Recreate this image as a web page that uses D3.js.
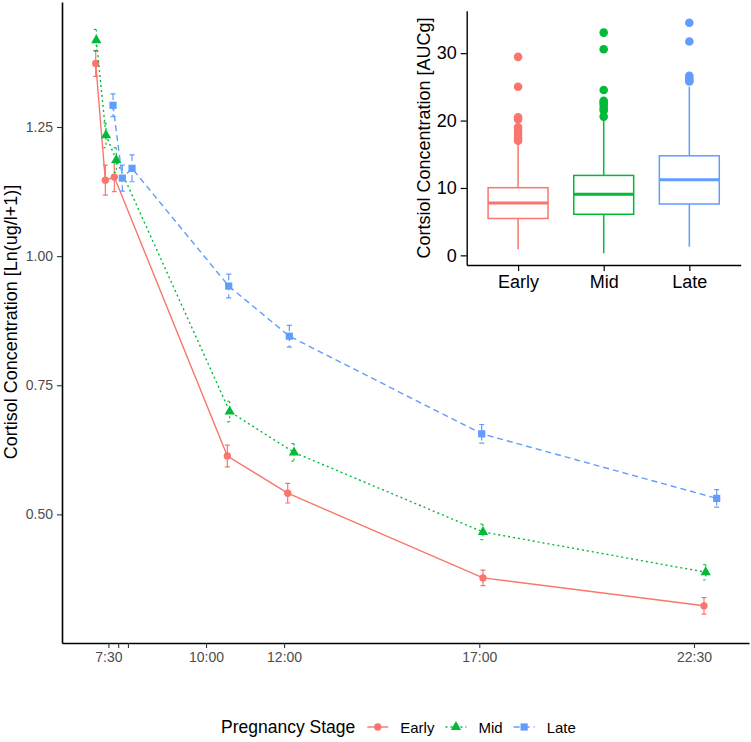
<!DOCTYPE html>
<html>
<head>
<meta charset="utf-8">
<script src="https://cdn.jsdelivr.net/npm/d3@7"></script>
<style>
  body { margin: 0; background: #fff; }
  svg { display: block; font-family: 'Liberation Sans', Arial, Helvetica, sans-serif; }
</style>
</head>
<body>
<div class="canvas"></div>
<script>
'use strict';

var STAGES = ['Early', 'Mid', 'Late'];
var STAGE_COLOR = ['#F8766D', '#00BA38', '#619CFF'];
var STAGE_DASH = [null, '2,3', '6,4'];

// mean sampling time (hours of day) for each stage
var TIME_EARLY = [7.175, 7.421, 7.651, 10.546, 12.093, 17.095, 22.756];
var TIME_MID = [7.190, 7.438, 7.702, 10.607, 12.254, 17.095, 22.800];
var TIME_LATE = [7.618, 7.856, 8.105, 10.581, 12.134, 17.062, 23.081];

// mean cortisol, Ln(ug/l+1)
var CORT_EARLY = [1.373, 1.147, 1.153, 0.613, 0.541, 0.377, 0.323];
var CORT_MID = [1.418, 1.234, 1.186, 0.699, 0.620, 0.466, 0.388];
var CORT_LATE = [1.292, 1.151, 1.170, 0.942, 0.845, 0.656, 0.531];

// standard errors
var SE_EARLY = [0.025, 0.029, 0.028, 0.021, 0.019, 0.015, 0.016];
var SE_MID = [0.021, 0.024, 0.024, 0.020, 0.017, 0.015, 0.015];
var SE_LATE = [0.022, 0.025, 0.026, 0.023, 0.021, 0.018, 0.017];

var TIME_TICKS = [7.5, 7.75, 8, 10, 12, 17, 22.5];
var TIME_LABELS = ['7:30', '', '', '10:00', '12:00', '17:00', '22:30'];
var CORT_TICKS = [0.5, 0.75, 1.0, 1.25];

// AUCg boxplot summary per stage
var AUC_Q1 = [5.47, 6.1, 7.62];
var AUC_MEDIAN = [7.77, 9.05, 11.2];
var AUC_Q3 = [10.04, 11.86, 14.77];
var AUC_LOW = [0.89, 0.3, 1.27];
var AUC_HIGH = [16.8, 20.2, 25.0];
var AUC_OUTLIERS = [
  [29.45, 25.02, 20.48, 20.2, 19.0, 18.5, 18.0, 17.5, 17.0],
  [33.05, 30.59, 24.53, 22.95, 22.7, 22.36, 21.87, 21.5, 20.59],
  [34.52, 31.72, 26.64, 26.3, 26.0, 25.8]
];
var AUC_TICKS = [0, 10, 20, 30];

var WIDTH = 751, HEIGHT = 742;
var SYMBOLS = [d3.symbolCircle, d3.symbolTriangle, d3.symbolSquare];
var SYMBOL_SIZE = [42, 46, 52];

var svg = d3.select('.canvas').append('svg')
  .attr('width', WIDTH)
  .attr('height', HEIGHT);

var series = [
  { times: TIME_EARLY, means: CORT_EARLY, se: SE_EARLY },
  { times: TIME_MID, means: CORT_MID, se: SE_MID },
  { times: TIME_LATE, means: CORT_LATE, se: SE_LATE }
].map(function(s, i) {
  return {
    index: i,
    points: s.times.map(function(t, j) {
      return { t: t, v: s.means[j], se: s.se[j] };
    })
  };
});

// ---------- main plot ----------
var x = d3.scaleLinear().domain([6.311, 23.909]).range([62, 749]);
var y = d3.scaleLinear().domain([0.251, 1.492]).range([643, 2]);

var xAxis = svg.append('g')
  .attr('transform', 'translate(0,643)')
  .call(d3.axisBottom(x)
    .tickValues(TIME_TICKS)
    .tickFormat(function(d, i) { return TIME_LABELS[i]; })
    .tickSize(5).tickSizeOuter(0).tickPadding(4));
var yAxis = svg.append('g')
  .attr('transform', 'translate(62,0)')
  .call(d3.axisLeft(y)
    .tickValues(CORT_TICKS)
    .tickFormat(d3.format('.2f'))
    .tickSize(5).tickSizeOuter(0).tickPadding(4));

[xAxis, yAxis].forEach(function(a) {
  a.select('.domain').attr('stroke', '#000').attr('stroke-width', 1.6);
  a.selectAll('.tick line').attr('stroke', '#333').attr('stroke-width', 1.1);
  a.selectAll('.tick text')
    .attr('fill', '#4D4D4D')
    .style('font-size', '14px')
    .style('font-family', 'Liberation Sans, Arial, sans-serif');
});

svg.append('text')
  .attr('transform', 'translate(16.5,322) rotate(-90)')
  .attr('text-anchor', 'middle')
  .style('font-size', '18px')
  .text('Cortisol Concentration [Ln(ug/l+1)]');

var line = d3.line()
  .x(function(d) { return x(d.t); })
  .y(function(d) { return y(d.v); });

var groups = svg.selectAll('g.series')
  .data(series)
  .enter()
  .append('g')
  .classed('series', true);

groups.append('path')
  .attr('d', function(d) { return line(d.points); })
  .attr('fill', 'none')
  .attr('stroke', function(d) { return STAGE_COLOR[d.index]; })
  .attr('stroke-width', 1.4)
  .attr('stroke-dasharray', function(d) { return STAGE_DASH[d.index]; });

// error bars follow the group's line type
groups.each(function(s) {
  var g = d3.select(this);
  var bars = g.selectAll('g.err')
    .data(s.points)
    .enter()
    .append('g')
    .attr('stroke', STAGE_COLOR[s.index])
    .attr('stroke-width', 1.2)
    .attr('stroke-dasharray', STAGE_DASH[s.index]);
  bars.append('path')
    .attr('d', function(d) {
      var cx = x(d.t), top = y(d.v + d.se), bot = y(d.v - d.se);
      return 'M' + cx + ',' + top + 'V' + bot +
        'M' + (cx - 2.5) + ',' + top + 'H' + (cx + 2.5) +
        'M' + (cx - 2.5) + ',' + bot + 'H' + (cx + 2.5);
    })
    .attr('fill', 'none');

  g.selectAll('path.pt')
    .data(s.points)
    .enter()
    .append('path')
    .classed('pt', true)
    .attr('transform', function(d) { return 'translate(' + x(d.t) + ',' + y(d.v) + ')'; })
    .attr('d', d3.symbol().type(SYMBOLS[s.index]).size(SYMBOL_SIZE[s.index]))
    .attr('fill', STAGE_COLOR[s.index]);
});

// ---------- inset boxplot ----------
var inset = svg.append('g');
var bx = d3.scalePoint().domain(STAGES).range([466.7, 740.7]).padding(0.6);
var by = d3.scaleLinear().domain([-1.43, 36.3]).range([265, 10.7]);
var boxW = bx.step() * 0.7;

var bxAxis = inset.append('g')
  .attr('transform', 'translate(0,265)')
  .call(d3.axisBottom(bx).tickSize(6).tickSizeOuter(0).tickPadding(4));
var byAxis = inset.append('g')
  .attr('transform', 'translate(466.7,0)')
  .call(d3.axisLeft(by).tickValues(AUC_TICKS).tickSize(6).tickSizeOuter(0).tickPadding(4));
[bxAxis, byAxis].forEach(function(a) {
  a.select('.domain').attr('stroke', '#000').attr('stroke-width', 1.4);
  a.selectAll('.tick line').attr('stroke', '#000').attr('stroke-width', 1.2);
  a.selectAll('.tick text')
    .attr('fill', '#000')
    .style('font-size', '18px')
    .style('font-family', 'Liberation Sans, Arial, sans-serif');
});

inset.append('text')
  .attr('transform', 'translate(430,138) rotate(-90)')
  .attr('text-anchor', 'middle')
  .style('font-size', '18px')
  .text('Cortsiol Concentration [AUCg]');

var boxes = inset.selectAll('g.box')
  .data(STAGES)
  .enter()
  .append('g')
  .classed('box', true)
  .attr('stroke', function(d, i) { return STAGE_COLOR[i]; })
  .attr('fill', 'none');

boxes.append('path')
  .attr('stroke-width', 1.5)
  .attr('d', function(d, i) {
    var cx = bx(d);
    return 'M' + cx + ',' + by(AUC_Q3[i]) + 'V' + by(AUC_HIGH[i]) +
      'M' + cx + ',' + by(AUC_Q1[i]) + 'V' + by(AUC_LOW[i]);
  });
boxes.append('rect')
  .attr('stroke-width', 1.5)
  .attr('x', function(d) { return bx(d) - boxW / 2; })
  .attr('width', boxW)
  .attr('y', function(d, i) { return by(AUC_Q3[i]); })
  .attr('height', function(d, i) { return by(AUC_Q1[i]) - by(AUC_Q3[i]); });
boxes.append('line')
  .attr('stroke-width', 3)
  .attr('x1', function(d) { return bx(d) - boxW / 2; })
  .attr('x2', function(d) { return bx(d) + boxW / 2; })
  .attr('y1', function(d, i) { return by(AUC_MEDIAN[i]); })
  .attr('y2', function(d, i) { return by(AUC_MEDIAN[i]); });

boxes.each(function(stage, i) {
  d3.select(this).selectAll('circle')
    .data(AUC_OUTLIERS[i])
    .enter()
    .append('circle')
    .attr('cx', bx(stage))
    .attr('cy', function(v) { return by(v); })
    .attr('r', 4.3)
    .attr('stroke', 'none')
    .attr('fill', STAGE_COLOR[i]);
});

// ---------- legend ----------
var legend = svg.append('g').attr('transform', 'translate(221,733)');
var title = legend.append('text')
  .style('font-size', '17.5px')
  .text('Pregnancy Stage');
var cursor = title.node().getComputedTextLength() + 12;

STAGES.forEach(function(stage, i) {
  var key = legend.append('g').attr('transform', 'translate(' + cursor + ',-6)');
  key.append('line')
    .attr('x1', 0).attr('x2', 21)
    .attr('stroke', STAGE_COLOR[i])
    .attr('stroke-width', 1.4)
    .attr('stroke-dasharray', STAGE_DASH[i]);
  key.append('path')
    .attr('transform', 'translate(10.5,0)')
    .attr('d', d3.symbol().type(SYMBOLS[i]).size(SYMBOL_SIZE[i]))
    .attr('fill', STAGE_COLOR[i]);
  var label = legend.append('text')
    .attr('x', cursor + 33)
    .style('font-size', '15px')
    .text(stage);
  cursor += 33 + label.node().getComputedTextLength() + 11;
});
</script>
</body>
</html>
